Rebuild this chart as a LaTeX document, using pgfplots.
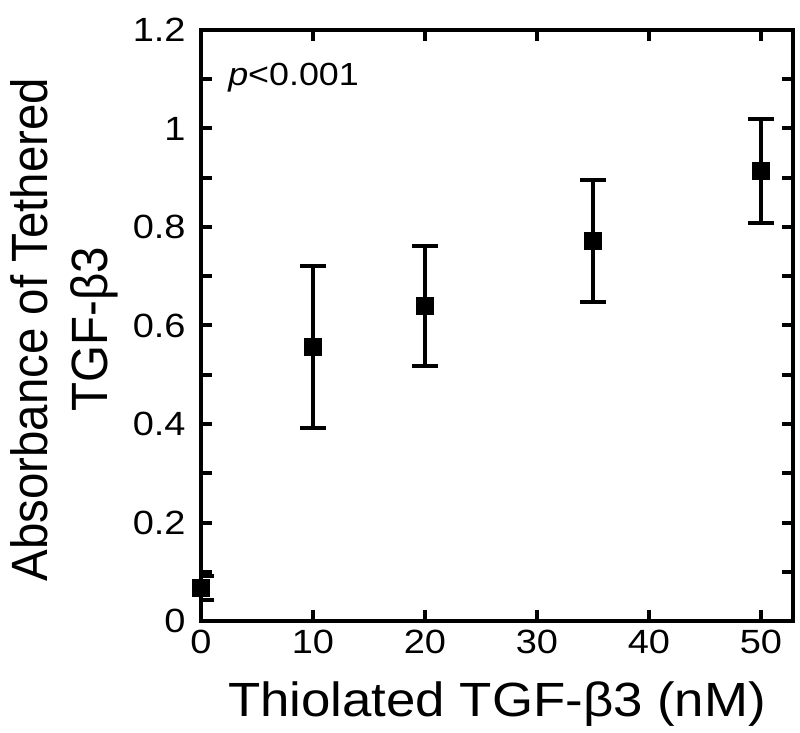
\documentclass[border=0pt]{standalone}
\usepackage{fontspec}
\setmainfont{Liberation Sans}[FakeStretch=1.12]
\newfontfamily\tickfont{Liberation Sans}[FakeStretch=1.13]
\newfontfamily\xlabfont{Liberation Sans}[FakeStretch=1.1]
\newfontfamily\ylabfont{Liberation Sans}[FakeStretch=0.93]
\usepackage{pgfplots}
\pgfplotsset{compat=1.18}
\begin{document}
\begin{tikzpicture}
\begin{axis}[
  name=ax,
  scale only axis,
  width=296pt, height=295.5pt,
  xmin=0, xmax=52.86, ymin=0, ymax=1.2,
  axis line style={line width=2pt},
  every tick/.style={line width=2pt, black},
  tick align=inside,
  major tick length=5.5pt, minor tick length=5.5pt,
  xtick={0,10,20,30,40,50},
  ytick={0,0.2,0.4,0.6,0.8,1,1.2},
  minor ytick={0.1,0.3,0.5,0.7,0.9,1.1},
  /pgf/number format/assume math mode=true,
  tick label style={font=\tickfont\fontsize{16.8}{20}\selectfont},
  yticklabel style={inner sep=0pt, xshift=-7.5pt},
  xticklabel style={inner sep=0pt, yshift=-4.5pt},
  xlabel={Thiolated TGF-β3 (nM)},
  ylabel={Absorbance of Tethered\\TGF-β3},
  xlabel style={font=\xlabfont\fontsize{24}{28}\selectfont, at={(rel axis cs:0.5,0)}, anchor=base, inner sep=0pt, yshift=-47.5pt},
  ylabel style={font=\ylabfont\fontsize{25.5}{30}\selectfont, align=center, at={([xshift=-95.5pt, yshift=-2pt]rel axis cs:0,0.5)}, anchor=north, inner sep=0pt},
]
\addplot[only marks, mark=square*, mark size=4.2pt, black, mark options={line width=0.5pt},
  error bars/.cd, y dir=both, y explicit,
  error bar style={line width=2pt, black},
  error mark options={rotate=90, mark size=6.5pt, line width=2pt, black}]
  table[x=x, y=y, y error=e] {
x y e
0 0.067 0.024
10 0.556 0.164
20 0.640 0.122
35 0.772 0.124
50 0.914 0.106
};
\node[anchor=base west, font=\fontsize{16}{20}\selectfont, inner sep=0pt] at (axis cs:2.4,1.088) {\textit{p}<0.001};
\end{axis}
\pgfresetboundingbox
\path[use as bounding box] ([xshift=-100.5pt, yshift=-55.5pt]ax.south west) rectangle ([xshift=3.5pt, yshift=15pt]ax.north east);
\end{tikzpicture}
\end{document}
